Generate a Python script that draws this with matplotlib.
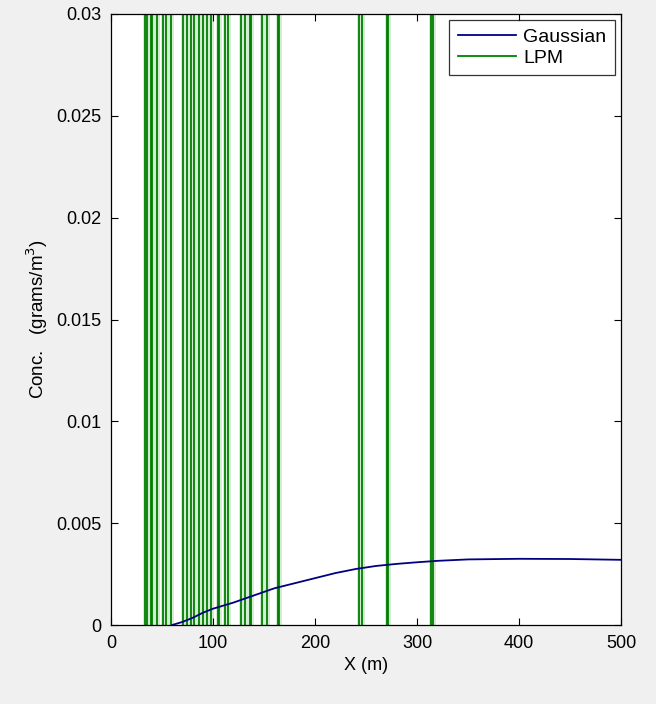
import numpy as np
import matplotlib
matplotlib.use('Agg')
import matplotlib.pyplot as plt

# Gaussian plume concentration along x
gauss_x = [60, 70, 80, 90, 100, 120, 140, 160, 180, 200, 220, 240, 260, 280, 300, 320, 350, 400, 450, 500]
gauss_y = [0.0, 0.00015, 0.00035, 0.0006, 0.0008, 0.0011, 0.00145, 0.0018, 0.00205, 0.0023,
           0.00255, 0.00275, 0.0029, 0.003, 0.00308, 0.00315, 0.00322, 0.00325, 0.00324, 0.0032]

# LPM spikes: each one jumps from 0 to far above the axis and back down
lpm_left = [33.5, 39.6, 45.5, 53.5, 70.3, 78.2, 86.1, 94.0, 104.5, 111.9, 127.7, 136.2, 148.5, 164.0, 243.6, 271.0, 313.9]
lpm_right = [35.5, 40.4, 50.5, 58.4, 74.3, 81.2, 90.1, 98.0, 105.5, 114.9, 131.7, 137.0, 152.5, 164.8, 246.5, 271.8, 315.8]
lpm_peak = 0.05

x_ticks = [0, 100, 200, 300, 400, 500]
y_ticks = [0, 0.005, 0.01, 0.015, 0.02, 0.025, 0.03]
y_labels = ['0', '0.005', '0.01', '0.015', '0.02', '0.025', '0.03']

#build the LPM line from the spike edges
lpm_x, lpm_y = [], []
for l, r in zip(lpm_left, lpm_right):
    lpm_x += [l, l, r, r, np.nan]
    lpm_y += [0, lpm_peak, lpm_peak, 0, np.nan]

plt.rcParams['font.family'] = ['Liberation Sans', 'DejaVu Sans']

fig = plt.figure(figsize=(6.56, 7.04), dpi=100, facecolor='#f0f0f0')
ax = fig.add_axes([111/656, 79/704, 510/656, 611/704])

ax.plot(lpm_x, lpm_y, color='#d2ebd2', lw=3.5, zorder=1)  # soft halo
ax.plot(lpm_x, lpm_y, color='#008000', lw=1.3, label='LPM', zorder=2)
ax.plot(gauss_x, gauss_y, color='#000080', lw=1.3, label='Gaussian', zorder=3)

ax.set_xlim(0, 500)
ax.set_ylim(0, 0.03)
ax.set_xticks(x_ticks)
ax.set_xticklabels([str(t) for t in x_ticks])
ax.set_yticks(y_ticks)
ax.set_yticklabels(y_labels)
ax.tick_params(direction='in', top=True, right=True, length=5, width=0.8,
               labelsize=13, pad=7, colors='black')
for s in ax.spines.values():
    s.set_linewidth(0.9)

ax.set_xlabel('X (m)', fontsize=13, labelpad=4)
ax.set_ylabel('Conc.   (grams/m$^3$)', fontsize=13.5, labelpad=4)

# legend order: Gaussian first
h, lab = ax.get_legend_handles_labels()
leg = ax.legend(h[::-1], lab[::-1], loc='upper right', fontsize=14, handlelength=3.0,
                frameon=True, fancybox=False, edgecolor='black', borderaxespad=0.3,
                labelspacing=0.15, borderpad=0.45, handletextpad=0.35)
leg.get_frame().set_linewidth(0.9)

plt.savefig('out.png', dpi=100, facecolor=fig.get_facecolor())
